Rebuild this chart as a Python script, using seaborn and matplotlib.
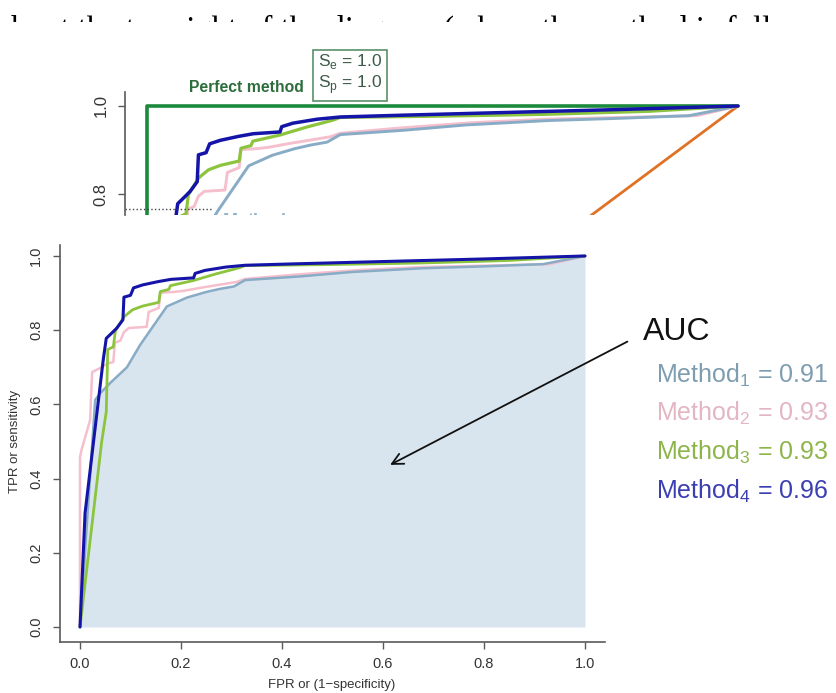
import matplotlib
matplotlib.use("Agg")
import numpy as np
import pandas as pd
import matplotlib.pyplot as plt
import seaborn as sns
from matplotlib import font_manager

# ROC curve points (false positive rate, true positive rate) for each method
fpr_m1 = [0, 0.03, 0.04, 0.06, 0.093, 0.119, 0.172, 0.212, 0.25, 0.276, 0.305, 0.327,
          0.436, 0.54, 0.68, 0.80, 0.917, 1.0]
tpr_m1 = [0, 0.612, 0.63, 0.658, 0.70, 0.76, 0.864, 0.888, 0.903, 0.911, 0.918, 0.935,
          0.945, 0.957, 0.967, 0.972, 0.978, 1.0]

fpr_m2 = [0, 0, 0.003, 0.02, 0.024, 0.04, 0.056, 0.066, 0.069, 0.08, 0.087, 0.097, 0.132,
          0.136, 0.156, 0.159, 0.185, 0.205, 0.242, 0.31, 0.327, 0.428, 0.55, 0.673, 0.93, 1.0]
tpr_m2 = [0, 0.458, 0.477, 0.558, 0.687, 0.698, 0.711, 0.714, 0.766, 0.772, 0.795, 0.806, 0.809,
          0.849, 0.86, 0.901, 0.903, 0.906, 0.915, 0.93, 0.938, 0.95, 0.962, 0.97, 0.978, 1.0]

fpr_m3 = [0, 0.043, 0.052, 0.055, 0.066, 0.07, 0.087, 0.104, 0.124, 0.156, 0.159, 0.176,
          0.179, 0.225, 0.27, 0.315, 0.327, 0.5, 0.673, 0.85, 1.0]
tpr_m3 = [0, 0.50, 0.58, 0.748, 0.755, 0.798, 0.836, 0.855, 0.865, 0.875, 0.904, 0.91,
          0.92, 0.934, 0.952, 0.968, 0.974, 0.977, 0.981, 0.988, 1.0]

fpr_m4 = [0, 0.01, 0.046, 0.052, 0.065, 0.073, 0.085, 0.087, 0.1, 0.106, 0.124, 0.155, 0.18,
          0.225, 0.228, 0.247, 0.288, 0.327, 0.43, 0.6, 0.8, 1.0]
tpr_m4 = [0, 0.307, 0.72, 0.778, 0.795, 0.806, 0.828, 0.889, 0.894, 0.914, 0.922, 0.931, 0.937,
          0.941, 0.953, 0.961, 0.97, 0.975, 0.979, 0.985, 0.992, 1.0]

# Reference curves of the upper panel
fpr_perfect = [0, 0, 1]
tpr_perfect = [0, 1, 1]
fpr_random = [0, 1]
tpr_random = [0, 1]

method_names = ["Method1", "Method2", "Method3", "Method4"]
method_subscripts = ["1", "2", "3", "4"]
auc_values = [0.91, 0.93, 0.93, 0.96]
x_ticks = [0.0, 0.2, 0.4, 0.6, 0.8, 1.0]
y_ticks = [0.0, 0.2, 0.4, 0.6, 0.8, 1.0]
top_ticks = [0.8, 1.0]

line_colors = ["#88abc6", "#f5bfcd", "#8cc43e", "#1414a8"]
text_colors = ["#7f9db0", "#e3b6c3", "#8eb54c", "#3b3fb2"]
line_widths = [1.8, 1.8, 2.0, 2.2]
draw_order = [1, 0, 2, 3]

curves = pd.concat([
    pd.DataFrame({"fpr": f, "tpr": t, "method": m})
    for f, t, m in zip([fpr_m1, fpr_m2, fpr_m3, fpr_m4],
                       [tpr_m1, tpr_m2, tpr_m3, tpr_m4], method_names)
], ignore_index=True)

sns.set_style("white")
plt.rcParams["font.family"] = ["Liberation Sans", "DejaVu Sans"]

installed = {f.name for f in font_manager.fontManager.ttflist}
narrow = "Liberation Sans Narrow" if "Liberation Sans Narrow" in installed else "Liberation Sans"
perfect_size = 13.5 if narrow == "Liberation Sans Narrow" else 11.3

W, H = 837, 693
fig = plt.figure(figsize=(W / 100, H / 100), dpi=100)
fig.patch.set_facecolor("white")


def px_rect(x0, y0, x1, y1):
    """Pixel box measured from the top-left corner -> figure fraction rect."""
    return [x0 / W, 1 - y1 / H, (x1 - x0) / W, (y1 - y0) / H]


def px_point(x, y):
    return x / W, 1 - y / H


spine_col = "#5a5a5a"
label_col = "#333333"

# ---- running text strip at the very top (only its upper part shows) ----
ax_txt = fig.add_axes(px_rect(0, 0, W, 22))
ax_txt.axis("off")
t = ax_txt.text(-3 / W, (22 - 38.5) / 22,
                "about the top right of the diagram (where the method is fully",
                transform=ax_txt.transAxes, ha="left", va="baseline",
                fontsize=23.5, family="Liberation Serif", color="black", clip_on=True)
t.set_clip_box(ax_txt.bbox)

# ---- upper panel: perfect method vs. random guess ----
ax_top = fig.add_axes(px_rect(125, 92, 760, 215))
ax_top.set_facecolor("white")
sns.lineplot(x=fpr_random, y=tpr_random, sort=False, estimator=None,
             color="#e07225", lw=2.0, ax=ax_top)
sns.lineplot(x=fpr_perfect, y=tpr_perfect, sort=False, estimator=None,
             color="#1b8a3c", lw=2.6, ax=ax_top)
for i in draw_order:
    sub = curves[curves["method"] == method_names[i]]
    sns.lineplot(data=sub, x="fpr", y="tpr", sort=False, estimator=None,
                 color=line_colors[i], lw=line_widths[i] + 0.3, ax=ax_top, legend=False)
ax_top.set_xlim(-0.0372, 1.0372)
ax_top.set_ylim(0.7523, 1.0318)
ax_top.set_xticks([])
ax_top.set_yticks(top_ticks)
ax_top.set_yticklabels([f"{v:.1f}" for v in top_ticks])
ax_top.set_xlabel("")
ax_top.set_ylabel("")
for s in ["top", "right", "bottom"]:
    ax_top.spines[s].set_visible(False)
ax_top.spines["left"].set_color(spine_col)
ax_top.spines["left"].set_linewidth(1.2)
ax_top.tick_params(axis="y", left=True, length=5, width=1, color=spine_col,
                   labelsize=12, labelcolor=label_col, labelrotation=90, pad=7)
for lab in ax_top.get_yticklabels():
    lab.set_family(narrow)
    lab.set_va("center")
ax_top.plot([-0.0372, 0.11], [0.766, 0.766], ls=":", color="#444444", lw=1.0, clip_on=False)
m1 = ax_top.text(0.127, 0.761, r"Method$_\mathregular{1}$", color="#8fb3cc", fontsize=13,
                 fontweight="bold", ha="left", va="top", clip_on=True)
m1.set_clip_box(ax_top.bbox)

fig.text(*px_point(246, 88), "Perfect method", color="#2d6e3c", fontsize=perfect_size,
         fontweight="bold", family=narrow, ha="center", va="center")
fig.text(*px_point(350, 74), "S$_\\mathregular{e}$ = 1.0\nS$_\\mathregular{p}$ = 1.0",
         color="#3d5a48", fontsize=12.5, family=narrow, ha="center", va="center",
         linespacing=1.1,
         bbox=dict(boxstyle="square,pad=0.3", facecolor="white", edgecolor="#5a9068", lw=1.2))

# ---- main panel: ROC curves with the area under Method1 shaded ----
ax = fig.add_axes(px_rect(60, 245, 605, 642))
ax.set_facecolor("white")
ax.fill_between(fpr_m1, tpr_m1, 0, color="#d9e5ee", lw=0, zorder=1)
for i in draw_order:
    sub = curves[curves["method"] == method_names[i]]
    sns.lineplot(data=sub, x="fpr", y="tpr", sort=False, estimator=None,
                 color=line_colors[i], lw=line_widths[i], ax=ax, legend=False, zorder=3)
ax.set_xlim(-0.0396, 1.0396)
ax.set_ylim(-0.0404, 1.0296)
ax.set_xticks(x_ticks)
ax.set_xticklabels([f"{v:.1f}" for v in x_ticks])
ax.set_yticks(y_ticks)
ax.set_yticklabels([f"{v:.1f}" for v in y_ticks])
sns.despine(ax=ax)
for s in ["left", "bottom"]:
    ax.spines[s].set_color(spine_col)
    ax.spines[s].set_linewidth(1.2)
ax.tick_params(axis="both", length=5, width=1, color=spine_col,
               labelsize=10.5, labelcolor=label_col)
ax.tick_params(axis="x", bottom=True, pad=6)
ax.tick_params(axis="y", left=True, labelrotation=90, pad=7)
for lab in ax.get_yticklabels():
    lab.set_va("center")
ax.set_xlabel("FPR or (1\u2212specificity)", fontsize=9.5, color=label_col, va="center")
ax.set_ylabel("TPR or sensitivity", fontsize=9.5, color=label_col, va="center")
ax.xaxis.set_label_coords(0.499, -(685 - 642) / 397)
ax.yaxis.set_label_coords((15 - 60) / 545, 0.505)

ax.annotate("AUC", xy=(0.614, 0.437), xytext=((643 - 80) / 505, (627 - 332) / 371),
            textcoords="data", ha="left", va="center", fontsize=23, color="#111111",
            annotation_clip=False,
            arrowprops=dict(arrowstyle="->", color="#111111", lw=1.3,
                            mutation_scale=20, relpos=(0, 0.45), shrinkA=10, shrinkB=0))

baselines = [383, 421, 460, 499]
for name_sub, auc, col, yb in zip(method_subscripts, auc_values, text_colors, baselines):
    fig.text(*px_point(656, yb), f"Method$_\\mathregular{{{name_sub}}}$ = {auc:.2f}",
             color=col, fontsize=18, ha="left", va="baseline")

fig.savefig("out.png", dpi=100, facecolor="white")
